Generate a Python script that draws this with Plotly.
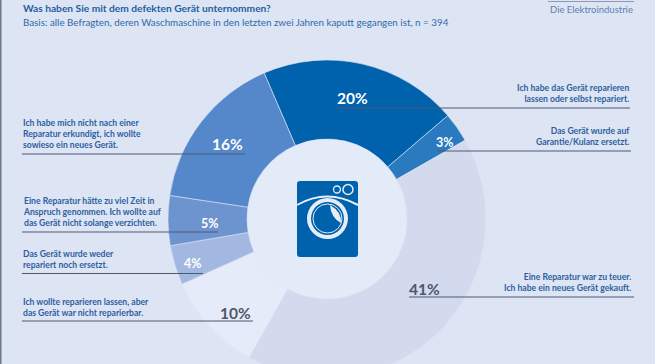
import plotly.graph_objects as go

W, H = 655, 380
categories = [
    "Ich habe das Gerät reparieren<br>lassen oder selbst repariert.",
    "Das Gerät wurde auf<br>Garantie/Kulanz ersetzt.",
    "Eine Reparatur war zu teuer.<br>Ich habe ein neues Gerät gekauft.",
    "Ich wollte reparieren lassen, aber<br>das Gerät war nicht reparierbar.",
    "Das Gerät wurde weder<br>repariert noch ersetzt.",
    "Eine Reparatur hätte zu viel Zeit in<br>Anspruch genommen. Ich wollte auf<br>das Gerät nicht solange verzichten.",
    "Ich habe mich nicht nach einer<br>Reparatur erkundigt, ich wollte<br>sowieso ein neues Gerät.",
]
values = [20, 3, 41, 10, 4, 5, 16]
colors = ["#0061ad", "#2a7abf", "#d3daed", "#e5ebf8", "#a3b8e0", "#6e94cf", "#5488ca"]
pct_colors = ["white", "white", "#50566a", "#50566a", "white", "white", "white"]
pct_sizes = [15.5, 12.5, 15.5, 15.5, 12.5, 12.5, 15.5]
pct_pos = [(352, 98), (445, 142), (424, 289), (235, 313), (193, 263), (210, 224), (227, 144)]
label_pos = [(630, 105), (631, 148), (632, 294), (22, 319), (22, 271), (22, 229), (22, 151)]
label_side = ["right", "right", "right", "left", "left", "left", "left"]
leader = [(336, 630, 108), (437, 631, 151), (409, 634, 297), (22, 253, 321), (22, 203, 273.5), (22, 218, 232), (22, 245, 154)]

cx, cy, R, r = 327, 219, 159, 80
px = lambda x: x / W
py = lambda y: 1 - y / H

fig = go.Figure(go.Pie(
    values=values, labels=categories, hole=r / R, sort=False, direction="clockwise",
    rotation=-23.3, textinfo="none", hoverinfo="skip", showlegend=False,
    marker=dict(colors=colors, line=dict(color="#dfe6f5", width=0.6)),
    domain=dict(x=[px(cx - R), px(cx + R)], y=[py(cy + R), py(cy - R)]),
))

shapes = []
def add(kind, x0, y0, x1, y1, **kw):
    shapes.append(dict(type=kind, xref="paper", yref="paper", x0=px(x0), x1=px(x1), y0=py(y0), y1=py(y1), **kw))

add("circle", cx - r, cy - r, cx + r, cy + r, fillcolor="#e3eaf8", line_width=0, layer="below")
add("rect", 0, 0, 1.5, H, fillcolor="#6d7690", line_width=0)
add("line", 548, 1.5, 634, 1.5, line=dict(color="#8e99b5", width=1))
for x0, x1, y in leader:
    add("line", x0, y, x1, y, line=dict(color="#4d5876", width=1))

blue, pale = "#0061ad", "#e5edf9"
def path(points):
    return " ".join(f"{c}{px(x):.5f},{py(y):.5f}" for c, x, y in points) + " Z"
shapes.append(dict(type="path", xref="paper", yref="paper", fillcolor=blue, line_width=0,
    path=path([("M", 300, 181), ("L", 355, 181), ("Q", 358, 181), ("", 358, 184), ("L", 358, 254), ("Q", 358, 257), ("", 355, 257),
               ("L", 300, 257), ("Q", 297, 257), ("", 297, 254), ("L", 297, 184), ("Q", 297, 181), ("", 300, 181)])))
shapes.append(dict(type="path", xref="paper", yref="paper", line=dict(color=pale, width=2),
    path=f"M{px(297)},{py(205)} Q{px(327)},{py(188)} {px(358)},{py(205)}"))
add("circle", 307, 198, 348, 239, fillcolor=pale, line_width=0)
add("circle", 311, 202, 344, 235, fillcolor=blue, line_width=0)
add("circle", 313, 204, 342, 233, fillcolor=blue, line=dict(color=pale, width=1))
shapes.append(dict(type="path", xref="paper", yref="paper", fillcolor=pale, line_width=0,
    path=f"M{px(330)},{py(205)} Q{px(342)},{py(212)} {px(341)},{py(223)} Q{px(331)},{py(218)} {px(330)},{py(205)} Z"))
add("circle", 333.5, 186, 340.5, 193, fillcolor=blue, line=dict(color=pale, width=1.3))
add("circle", 343, 184.5, 353, 194.5, fillcolor=blue, line=dict(color=pale, width=1.5))

ann = []
FONT = "Lato"
def text(x, y, s, size, color, anchor, yanchor="bottom"):
    ann.append(dict(xref="paper", yref="paper", x=px(x), y=py(y), text=s, showarrow=False, xanchor=anchor,
                    yanchor=yanchor, align=anchor, font=dict(family=FONT, size=size, color=color), borderpad=0))

text_blue = "#2d5f9e"
for s, (x, y), side in zip(categories, label_pos, label_side):
    text(x, y, "<b>" + s + "</b>", 8.6, text_blue, side)
for v, (x, y), c, sz in zip(values, pct_pos, pct_colors, pct_sizes):
    text(x, y, f"<b>{v}%</b>", sz, c, "center", "middle")
text(22, 8, "<b>Was haben Sie mit dem defekten Gerät unternommen?</b>", 10.2, "#1d5f9f", "left", "middle")
text(22, 22, "Basis: alle Befragten, deren Waschmaschine in den letzten zwei Jahren kaputt gegangen ist, n = 394", 9.8, "#2f6ba8", "left", "middle")
text(634, 10, "Die Elektroindustrie", 9.5, "#5f7fae", "right", "middle")

fig.update_layout(width=W, height=H, margin=dict(l=0, r=0, t=0, b=0), paper_bgcolor="#dde4f4",
                  shapes=shapes, annotations=ann)
fig.write_html("out.html", config=dict(displayModeBar=False),
               post_script="document.documentElement.style.overflow='hidden';document.body.style.overflow='hidden';document.body.style.margin='0';")
